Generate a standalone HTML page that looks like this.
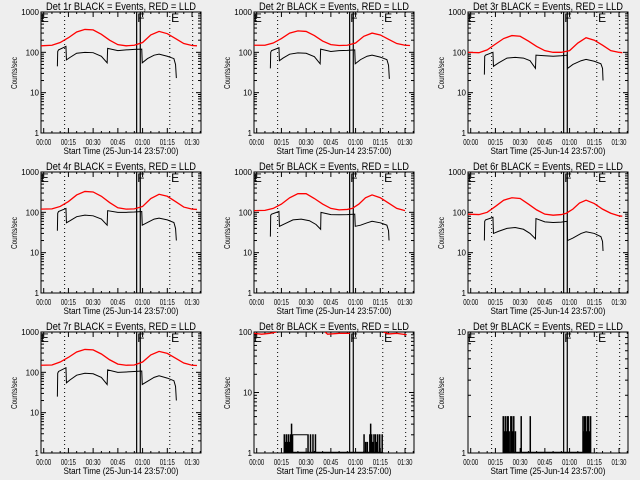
<!DOCTYPE html>
<html><head><meta charset="utf-8"><style>
html,body{margin:0;padding:0;background:#eeeeee;}
svg{display:block;font-family:"Liberation Sans",sans-serif;}
</style></head><body>
<svg id="chart" width="640" height="480" viewBox="0 0 640 480">
<rect width="640" height="480" fill="#eeeeee"/>
</svg>
<script>
const xTickLabels = ["00:00","00:15","00:30","00:45","01:00","01:15","01:30"];
const xTickMinutes = [0,15,30,45,60,75,90];
const dottedMinutes = [12.7,76.5,90.4];
const solidMinutes = [56.4,58.6];
const markerLabels = ["E","F","E"];
const markerMinutes = [-1.8,56.8,77.3];

const det1Red = [[-2,145],[5,150],[10,175],[15,230],[20,320],[25,370],[30,360],[35,280],[40,200],[45,155],[50,145],[55,150],[60,175],[65,270],[70,330],[75,290],[80,220],[85,165],[90,148],[93,145]];
const det1Black = [[8.3,45],[8.5,105],[9,115],[13.5,140],[13.8,65],[16,75],[20,95],[25,100],[30,98],[35,80],[38.5,55],[38.8,125],[45,110],[50,115],[55,118],[59.5,120],[59.8,55],[63,70],[67,85],[70,90],[75,80],[79,70],[80,50],[80.5,23]];
const det2Red = [[-2,150],[5,150],[10,170],[15,220],[20,300],[25,340],[30,330],[35,260],[40,190],[45,155],[50,148],[55,150],[60,170],[65,250],[70,300],[75,270],[80,210],[85,165],[90,150],[93,148]];
const det2Black = [[8.3,40],[8.5,100],[9,110],[13.5,130],[13.8,62],[16,72],[20,90],[25,97],[30,95],[35,78],[38.5,52],[38.8,120],[45,105],[50,110],[55,112],[59.5,115],[59.8,52],[63,66],[67,80],[70,85],[75,76],[79,66],[80,48],[80.5,22]];
const det3Red = [[-2,100],[5,98],[10,115],[15,160],[20,220],[25,260],[30,250],[35,190],[40,140],[45,110],[50,100],[55,100],[60,110],[65,170],[70,230],[75,200],[80,150],[85,110],[90,100],[92,98]];
const det3Black = [[8.3,28],[8.5,80],[9,85],[13.5,100],[13.8,45],[17,55],[22,72],[27,75],[32,72],[36,62],[39.3,40],[39.6,85],[45,82],[50,80],[55,82],[58.5,85],[58.8,40],[62,50],[67,62],[70,67],[75,60],[79,52],[80,40],[80.3,20]];
const det4Red = [[-2,120],[5,122],[10,140],[15,185],[20,270],[25,330],[30,320],[35,250],[40,175],[45,130],[50,120],[55,122],[60,140],[65,220],[70,280],[75,250],[80,185],[85,135],[90,120],[93,118]];
const det4Black = [[8.3,35],[8.5,95],[9,105],[13.5,125],[13.8,55],[16,62],[20,78],[25,85],[30,82],[35,68],[38.5,48],[38.8,110],[45,100],[50,100],[55,102],[59.5,105],[59.8,48],[63,56],[67,68],[70,72],[75,65],[79,56],[80,40],[80.5,20]];
const det5Red = [[-2,110],[5,112],[10,125],[15,160],[20,230],[25,290],[30,290],[35,220],[40,160],[45,125],[50,115],[55,118],[58,125],[62,160],[66,230],[70,270],[75,230],[80,170],[85,125],[90,110]];
const det5Black = [[8.3,25],[8.5,85],[9,90],[13.5,105],[13.8,45],[17,52],[22,65],[27,68],[32,62],[36,50],[38.8,38],[39,100],[45,88],[50,87],[55,88],[59.5,90],[59.8,45],[63,48],[67,55],[70,60],[75,55],[79,48],[80,35],[80.3,20]];
const det6Red = [[-2,90],[5,88],[10,100],[15,140],[20,200],[25,230],[30,220],[35,160],[40,115],[45,90],[50,85],[55,88],[58,95],[62,120],[66,170],[70,200],[75,165],[80,120],[85,95],[90,82],[92,80]];
const det6Black = [[8.3,20],[8.5,60],[9,65],[13.5,75],[13.8,30],[17,34],[22,40],[27,42],[32,38],[36,30],[39.3,22],[39.6,70],[45,58],[50,56],[55,57],[58.5,60],[58.8,20],[62,23],[67,30],[70,33],[75,30],[79,25],[80,19],[80.3,11]];
const det7Red = [[-2,150],[5,152],[10,180],[15,235],[20,320],[25,370],[30,360],[35,285],[40,205],[45,160],[50,150],[55,152],[60,180],[65,270],[70,330],[75,295],[80,225],[85,170],[90,150],[93,148]];
const det7Black = [[8.3,25],[8.5,95],[9,105],[13.5,130],[13.8,55],[16,65],[20,85],[25,95],[30,92],[35,75],[38.5,50],[38.8,115],[45,100],[50,102],[55,105],[59.5,108],[59.8,50],[63,60],[67,75],[70,82],[75,72],[79,62],[80,45],[80.5,20]];
const det8RedA = [[-2,95],[3,92],[8,95],[12,100]];
const det8RedB = [[41.5,100],[43,92],[50,95],[56.6,95]];
const det8RedC = [[77,100],[80,93],[85,95],[91,90]];
const det8Bins = [[16.6,2],[17.2,1.5],[17.8,2],[18.4,1.5],[19,2],[19.6,1.5],[20.2,2],[21,3],[21.6,2],[31,2],[32.5,2],[34,2],[35.5,2],[65,2],[66,1.5],[67,1.5],[68.5,2],[69,3],[69.6,2],[70.3,1.5],[71,2],[72,2],[72.6,1.5],[73.3,2],[74.5,2],[76,2]];
const det8Plateau = [[21.6,2],[31,2]];
const det9Bins = [[19.6,2],[20.2,1.5],[20.8,2],[21.4,1.5],[22,2],[22.6,2],[23.2,1.5],[24.2,2],[24.8,2],[25.4,1.5],[26,2],[27,1.5],[30.5,2],[36,2],[68,2],[68.5,1.5],[69,2],[69.6,2],[70.2,1.5],[70.8,2],[71.4,2],[72,1.5],[72.6,2]];

const NS="http://www.w3.org/2000/svg";
const svg=document.getElementById('chart');
function mk(tag,attrs,parent){const e=document.createElementNS(NS,tag);for(const k in attrs)e.setAttribute(k,attrs[k]);parent.appendChild(e);return e;}

const BX=41,BY=12,BW=160,BH=121;
function xOf(m){return 43.7+m*1.648;}

function drawPanel(idx,col,row,ymax,reds,black,bins,plateau){
  const g=mk('g',{transform:`translate(${Math.round(col*213.3)},${row*160})`},svg);
  
  
  const dec=Math.log10(ymax);
  const yOf=v=>BY+BH-(Math.log10(v)/dec)*BH;
  const cid='clip'+idx;
  const cp=mk('clipPath',{id:cid},g);mk('rect',{x:BX,y:BY,width:BW,height:BH},cp);
  const t=mk('text',{x:121,y:10,'text-anchor':'middle','font-size':11,textLength:150,lengthAdjust:'spacingAndGlyphs',fill:'#000'},g);
  t.textContent='Det '+idx+'r BLACK = Events, RED = LLD';
  
  
  const yt=mk('text',{x:0,y:0,transform:'translate(17,73) rotate(-90)','text-anchor':'middle','font-size':8,textLength:32,lengthAdjust:'spacingAndGlyphs',fill:'#000'},g);
  yt.textContent='Counts/sec';
  
  
  const xt=mk('text',{x:121,y:154,'text-anchor':'middle','font-size':9,textLength:115,lengthAdjust:'spacingAndGlyphs',fill:'#000'},g);
  xt.textContent='Start Time (25-Jun-14 23:57:00)';
  
  
  const box=mk('rect',{x:BX,y:BY,width:BW,height:BH,fill:'none',stroke:'#000','stroke-width':1},g);
  
  
  for(let d=0;d<=dec;d++){
    const v=Math.pow(10,d),y=yOf(v);
    mk('line',{x1:BX,x2:BX+5,y1:y,y2:y,stroke:'#000'},g);
    mk('line',{x1:BX+BW-5,x2:BX+BW,y1:y,y2:y,stroke:'#000'},g);
    const l=mk('text',{x:BX-2,y:y+3,'text-anchor':'end','font-size':8,fill:'#000'},g);
    l.textContent=String(v);
    
    
    if(d<dec)for(let k=2;k<=9;k++){const yy=yOf(k*v);
      mk('line',{x1:BX,x2:BX+3,y1:yy,y2:yy,stroke:'#000'},g);
      mk('line',{x1:BX+BW-3,x2:BX+BW,y1:yy,y2:yy,stroke:'#000'},g);}
  }
  for(let m=0;m<=95;m+=5){const x=xOf(m);const big=m%15===0;const L=big?5:2;
    mk('line',{x1:x,x2:x,y1:BY+BH,y2:BY+BH-L,stroke:'#000'},g);
    mk('line',{x1:x,x2:x,y1:BY,y2:BY+L,stroke:'#000'},g);}
  xTickMinutes.forEach((m,i)=>{const l=mk('text',{x:xOf(m),y:145,'text-anchor':'middle','font-size':8,textLength:15,lengthAdjust:'spacingAndGlyphs',fill:'#000'},g);
    l.textContent=xTickLabels[i];
    
    });
  dottedMinutes.forEach(m=>{const ln=mk('line',{x1:xOf(m),x2:xOf(m),y1:BY,y2:BY+BH,stroke:'#000','stroke-dasharray':'1,3'},g);
    
    });
  solidMinutes.forEach(m=>{const ln=mk('line',{x1:xOf(m),x2:xOf(m),y1:BY,y2:BY+BH,stroke:'#000','stroke-width':1.2},g);
    
    });
  markerLabels.forEach((s,i)=>{const l=mk('text',{x:xOf(markerMinutes[i]),y:BY+10,'font-size':12,fill:'#000'},g);
    l.textContent=s;
    
    });
  const cg=mk('g',{'clip-path':`url(#${cid})`},g);
  reds.forEach(r=>{const p=mk('polyline',{points:r.map(d=>xOf(d[0])+','+yOf(d[1])).join(' '),fill:'none',stroke:'#ff0000','stroke-width':1.3},cg);
    
    });
  if(black){const p=mk('polyline',{points:black.map(d=>xOf(d[0])+','+yOf(d[1])).join(' '),fill:'none',stroke:'#000','stroke-width':1},cg);
    
    }
  if(bins){let dstr='';bins.forEach(b=>{const x0=xOf(b[0]),x1=xOf(b[0]+0.3),y0=yOf(1),y1=yOf(b[1]);
      dstr+=`M${x0},${y0}V${y1}H${x1}V${y0}`;});
    if(plateau){dstr+=`M${xOf(plateau[0][0])},${yOf(plateau[0][1])}H${xOf(plateau[1][0])}`;}
    const p=mk('path',{d:dstr,fill:'none',stroke:'#000','stroke-width':1},cg);
    
    
    const base=mk('line',{x1:xOf(bins[0][0]),x2:xOf(bins[bins.length-1][0]+0.3),y1:yOf(1)-0.5,y2:yOf(1)-0.5,stroke:'#000','stroke-width':1.5},cg);
    
    }
}
drawPanel(1,0,0,1000,[det1Red],det1Black,null);
drawPanel(2,1,0,1000,[det2Red],det2Black,null);
drawPanel(3,2,0,1000,[det3Red],det3Black,null);
drawPanel(4,0,1,1000,[det4Red],det4Black,null);
drawPanel(5,1,1,1000,[det5Red],det5Black,null);
drawPanel(6,2,1,1000,[det6Red],det6Black,null);
drawPanel(7,0,2,1000,[det7Red],det7Black,null);
drawPanel(8,1,2,100,[det8RedA,det8RedB,det8RedC],null,det8Bins,det8Plateau);
drawPanel(9,2,2,10,[],null,det9Bins,null);
</script>
</body></html>
